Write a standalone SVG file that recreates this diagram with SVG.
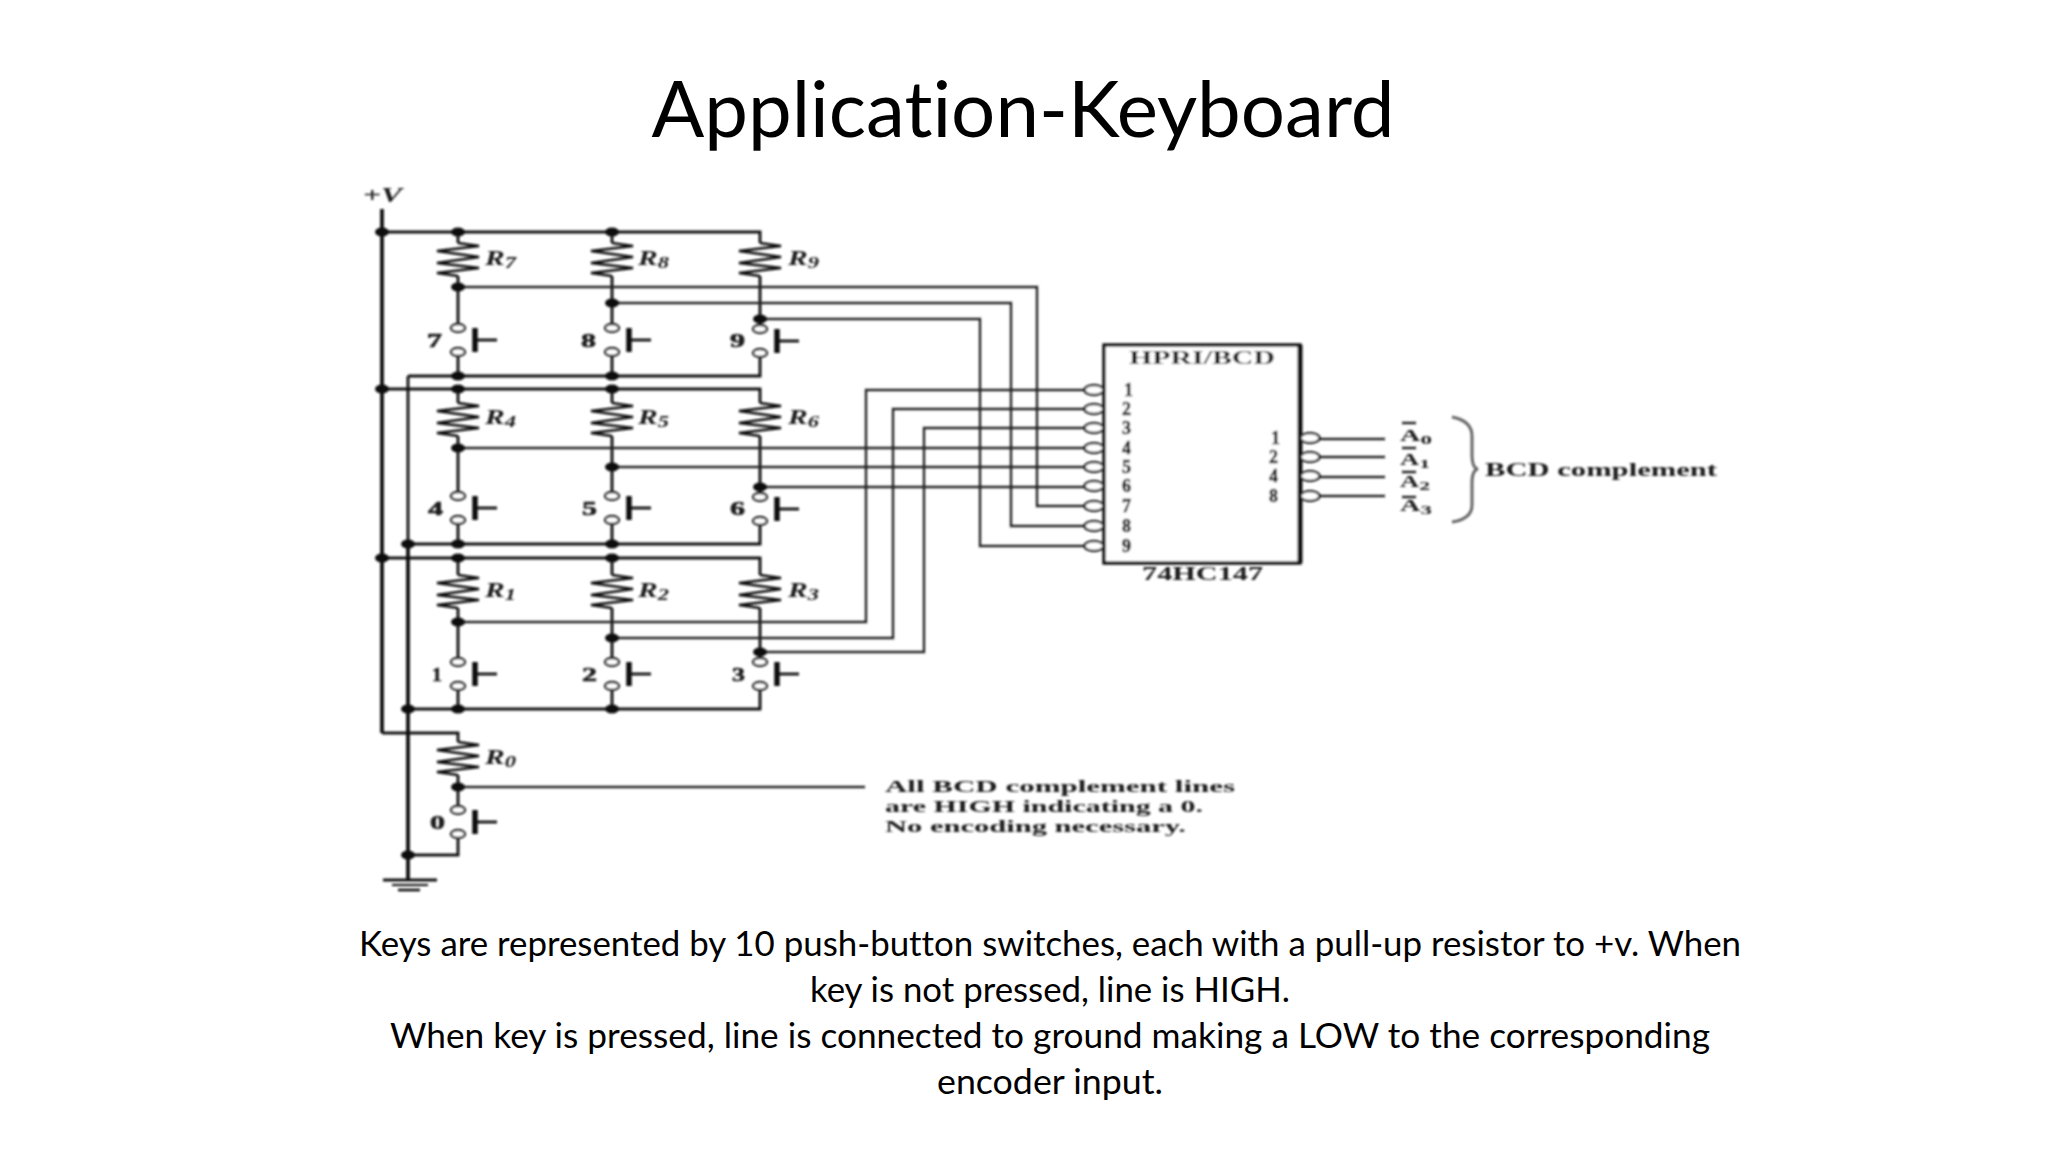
<svg xmlns="http://www.w3.org/2000/svg" xmlns:xlink="http://www.w3.org/1999/xlink" width="2048" height="1152" viewBox="0 0 2048 1152">
<style>
.w{fill:none;stroke:#111;stroke-width:2.8;stroke-linejoin:miter}
.t{stroke-width:2.4;stroke:#222}
.h{stroke-width:3.8}
.z{stroke-width:2.5;stroke-linejoin:bevel}
.c{fill:#fff;stroke:#222;stroke-width:2.4}
.k{fill:#111}
.s{font-family:"Liberation Serif",serif;font-weight:700;fill:#1c1c1c}
.r{font-size:21px;font-style:italic}
.b{font-size:16px}
.n{font-size:19px;stroke:#1c1c1c;stroke-width:.6}
.u{font-family:Lato,"Liberation Sans",sans-serif;fill:#000;font-variant-ligatures:none;white-space:pre}
</style>
<defs>
<filter id="soft" x="-5%" y="-5%" width="110%" height="110%"><feGaussianBlur stdDeviation="0.95"/></filter>
<path id="res" class="w z" d="M0 0L21 3L-21 8L21 14L-21 20L21 25L-21 30L0 33"/>
<ellipse id="dot" class="k" rx="7" ry="4.5"/>
<ellipse id="bub" class="c" rx="9.5" ry="5"/>
<g id="sw">
<ellipse class="c" cx="0" cy="0" rx="7" ry="4"/>
<ellipse class="c" cx="0" cy="24" rx="7" ry="4"/>
<path fill="none" stroke="#111" stroke-width="5.5" d="M17 0V24"/>
<path class="w" d="M17 12H39"/>
</g>
</defs>
<rect width="2048" height="1152" fill="#fff"/>
<text class="u" x="1023" y="137" font-size="78" text-anchor="middle" textLength="743" lengthAdjust="spacingAndGlyphs">Application-Keyboard</text>
<g id="circuit" filter="url(#soft)">
<g id="connectors">
<path class="w h" d="M382 209V733"/>
<path class="w" d="M382 733H458V742"/>
<path class="w" d="M408 376V544"/>
<path class="w h" d="M408 544V880"/>
<path class="w" d="M382 232H760V243M458 232V243M612 232V243"/>
<path class="w" d="M382 389H760V403M458 389V403M612 389V403"/>
<path class="w" d="M382 558H760V575M458 558V575M612 558V575"/>
<path class="w" d="M408 376H760V356M458 356V376M612 356V376"/>
<path class="w" d="M408 544H760V523M458 523V544M612 523V544"/>
<path class="w" d="M408 709H760V690M458 690V709M612 690V709"/>
<path class="w" d="M458 276V324M612 276V324M760 276V325"/>
<path class="w" d="M458 436V492M612 436V492M760 436V492"/>
<path class="w" d="M458 608V658M612 608V658M760 608V658"/>
<path class="w t" d="M458 287H1037V506H1085"/>
<path class="w t" d="M612 303H1011V526H1085"/>
<path class="w t" d="M760 319H980V546H1085"/>
<path class="w t" d="M458 448H1085M612 467H1085M760 487H1085"/>
<path class="w t" d="M458 622H866V390H1085"/>
<path class="w t" d="M612 638H893V409H1085"/>
<path class="w t" d="M760 652H924V428H1085"/>
<path class="w" d="M458 775V806M458 837V855H408"/>
<path class="w t" d="M458 787H865"/>
<path class="w t" d="M1319 439H1385M1319 457H1385M1319 477H1385M1319 496H1385"/>
<path class="w" d="M383 880H437"/>
<path class="w" style="stroke-width:2" d="M392 885H428"/>
<path class="w" style="stroke-width:2.6" d="M398 890H420"/>
<path class="w" style="stroke:#666;stroke-width:3" d="M1452 417Q1472 421 1472 436V455Q1472 468 1478 469Q1472 470 1472 483V505Q1472 519 1452 522"/>
<use href="#dot" x="382" y="232"/><use href="#dot" x="458" y="232"/><use href="#dot" x="612" y="232"/>
<use href="#dot" x="382" y="389"/><use href="#dot" x="458" y="389"/><use href="#dot" x="612" y="389"/>
<use href="#dot" x="382" y="558"/><use href="#dot" x="458" y="558"/><use href="#dot" x="612" y="558"/>
<use href="#dot" x="458" y="376"/><use href="#dot" x="612" y="376"/>
<use href="#dot" x="408" y="544"/><use href="#dot" x="458" y="544"/><use href="#dot" x="612" y="544"/>
<use href="#dot" x="408" y="709"/><use href="#dot" x="458" y="709"/><use href="#dot" x="612" y="709"/>
<use href="#dot" x="408" y="855"/><use href="#dot" x="458" y="787"/>
<use href="#dot" x="458" y="287"/><use href="#dot" x="612" y="303"/><use href="#dot" x="760" y="319"/>
<use href="#dot" x="458" y="448"/><use href="#dot" x="612" y="467"/><use href="#dot" x="760" y="487"/>
<use href="#dot" x="458" y="622"/><use href="#dot" x="612" y="638"/><use href="#dot" x="760" y="652"/>
</g>
<g id="supply"><text class="s r" x="363" y="202" textLength="39" lengthAdjust="spacingAndGlyphs">+V</text></g>

<g id="R7"><use href="#res" x="458" y="243"/><text class="s r" x="485" y="265" textLength="31" lengthAdjust="spacingAndGlyphs">R<tspan class="b" dy="3">7</tspan></text></g>
<g id="R8"><use href="#res" x="612" y="243"/><text class="s r" x="638" y="265" textLength="31" lengthAdjust="spacingAndGlyphs">R<tspan class="b" dy="3">8</tspan></text></g>
<g id="R9"><use href="#res" x="760" y="243"/><text class="s r" x="788" y="265" textLength="31" lengthAdjust="spacingAndGlyphs">R<tspan class="b" dy="3">9</tspan></text></g>
<g id="R4"><use href="#res" x="458" y="403"/><text class="s r" x="485" y="424" textLength="31" lengthAdjust="spacingAndGlyphs">R<tspan class="b" dy="3">4</tspan></text></g>
<g id="R5"><use href="#res" x="612" y="403"/><text class="s r" x="638" y="424" textLength="31" lengthAdjust="spacingAndGlyphs">R<tspan class="b" dy="3">5</tspan></text></g>
<g id="R6"><use href="#res" x="760" y="403"/><text class="s r" x="788" y="424" textLength="31" lengthAdjust="spacingAndGlyphs">R<tspan class="b" dy="3">6</tspan></text></g>
<g id="R1"><use href="#res" x="458" y="575"/><text class="s r" x="485" y="597" textLength="31" lengthAdjust="spacingAndGlyphs">R<tspan class="b" dy="3">1</tspan></text></g>
<g id="R2"><use href="#res" x="612" y="575"/><text class="s r" x="638" y="597" textLength="31" lengthAdjust="spacingAndGlyphs">R<tspan class="b" dy="3">2</tspan></text></g>
<g id="R3"><use href="#res" x="760" y="575"/><text class="s r" x="788" y="597" textLength="31" lengthAdjust="spacingAndGlyphs">R<tspan class="b" dy="3">3</tspan></text></g>
<g id="R0"><use href="#res" x="458" y="742"/><text class="s r" x="485" y="764" textLength="31" lengthAdjust="spacingAndGlyphs">R<tspan class="b" dy="3">0</tspan></text></g>

<g id="key7"><use href="#sw" x="458" y="328"/><text class="s n" x="427" y="347" textLength="15" lengthAdjust="spacingAndGlyphs">7</text></g>
<g id="key8"><use href="#sw" x="612" y="328"/><text class="s n" x="581" y="347" textLength="15" lengthAdjust="spacingAndGlyphs">8</text></g>
<g id="key9"><use href="#sw" x="760" y="329"/><text class="s n" x="730" y="347" textLength="15" lengthAdjust="spacingAndGlyphs">9</text></g>
<g id="key4"><use href="#sw" x="458" y="496"/><text class="s n" x="428" y="515" textLength="15" lengthAdjust="spacingAndGlyphs">4</text></g>
<g id="key5"><use href="#sw" x="612" y="496"/><text class="s n" x="582" y="515" textLength="15" lengthAdjust="spacingAndGlyphs">5</text></g>
<g id="key6"><use href="#sw" x="760" y="497"/><text class="s n" x="730" y="515" textLength="15" lengthAdjust="spacingAndGlyphs">6</text></g>
<g id="key1"><use href="#sw" x="458" y="662"/><text class="s n" x="432" y="681" textLength="10" lengthAdjust="spacingAndGlyphs">1</text></g>
<g id="key2"><use href="#sw" x="612" y="662"/><text class="s n" x="582" y="681" textLength="15" lengthAdjust="spacingAndGlyphs">2</text></g>
<g id="key3"><use href="#sw" x="760" y="662"/><text class="s n" x="732" y="681" textLength="13" lengthAdjust="spacingAndGlyphs">3</text></g>
<g id="key0"><use href="#sw" x="458" y="810"/><text class="s n" x="430" y="829" textLength="15" lengthAdjust="spacingAndGlyphs">0</text></g>

<g id="encoder">
<rect x="1104" y="345" width="196" height="218" fill="#fff" stroke="#111" stroke-width="3.4"/>
<path d="M1300 345V563" stroke="#111" stroke-width="5"/>
<use href="#bub" x="1094" y="390"/><use href="#bub" x="1094" y="409"/><use href="#bub" x="1094" y="428"/>
<use href="#bub" x="1094" y="448"/><use href="#bub" x="1094" y="467"/><use href="#bub" x="1094" y="486"/>
<use href="#bub" x="1094" y="506"/><use href="#bub" x="1094" y="526"/><use href="#bub" x="1094" y="546"/>
<use href="#bub" x="1310" y="438"/><use href="#bub" x="1310" y="457"/><use href="#bub" x="1310" y="476"/><use href="#bub" x="1310" y="496"/>
<text class="s" font-size="18" x="1129" y="364" textLength="146" lengthAdjust="spacingAndGlyphs">HPRI/BCD</text>
<text class="s" font-size="18" x="1142" y="580" textLength="121" lengthAdjust="spacingAndGlyphs">74HC147</text>
<text class="s n" id="inputs" style="font-size:18px"><tspan x="1124" y="396">1</tspan><tspan x="1122" y="415">2</tspan><tspan x="1122" y="434">3</tspan><tspan x="1122" y="454">4</tspan><tspan x="1122" y="473">5</tspan><tspan x="1122" y="492">6</tspan><tspan x="1122" y="512">7</tspan><tspan x="1122" y="532">8</tspan><tspan x="1122" y="552">9</tspan></text>
<text class="s n" id="outweights" style="font-size:18px"><tspan x="1271" y="444">1</tspan><tspan x="1269" y="463">2</tspan><tspan x="1269" y="482">4</tspan><tspan x="1269" y="502">8</tspan></text>
</g>
<g id="outputs">
<path class="w t" d="M1402 423H1416M1402 448H1416M1402 472H1416M1402 497H1416"/>
<text class="s" font-size="16" x="1400" y="441" textLength="32" lengthAdjust="spacingAndGlyphs">A<tspan font-size="13" dy="3">0</tspan></text>
<text class="s" font-size="16" x="1400" y="465" textLength="30" lengthAdjust="spacingAndGlyphs">A<tspan font-size="13" dy="3">1</tspan></text>
<text class="s" font-size="16" x="1400" y="487" textLength="30" lengthAdjust="spacingAndGlyphs">A<tspan font-size="13" dy="3">2</tspan></text>
<text class="s" font-size="16" x="1400" y="511" textLength="32" lengthAdjust="spacingAndGlyphs">A<tspan font-size="13" dy="3">3</tspan></text>
<text class="s" font-size="19" x="1485" y="476" textLength="232" lengthAdjust="spacingAndGlyphs">BCD complement</text>
</g>
<g id="note" class="s" font-size="17">
<text x="885" y="792" textLength="350" lengthAdjust="spacingAndGlyphs">All BCD complement lines</text>
<text x="885" y="812" textLength="318" lengthAdjust="spacingAndGlyphs">are HIGH indicating a 0.</text>
<text x="885" y="832" textLength="301" lengthAdjust="spacingAndGlyphs">No encoding necessary.</text>
</g>
</g>
<g id="caption" class="u" font-size="34" text-anchor="middle">
<text x="1050" y="956" textLength="1382" lengthAdjust="spacingAndGlyphs">Keys are represented by 10 push-button switches, each with a pull-up resistor to +v. When</text>
<text x="1050" y="1002" textLength="480" lengthAdjust="spacingAndGlyphs">key is not pressed, line is HIGH.</text>
<text x="1050" y="1048" textLength="1320" lengthAdjust="spacingAndGlyphs">When key is pressed, line is connected to ground making a LOW to the  corresponding</text>
<text x="1050" y="1094" textLength="226" lengthAdjust="spacingAndGlyphs">encoder input.</text>
</g>
</svg>
